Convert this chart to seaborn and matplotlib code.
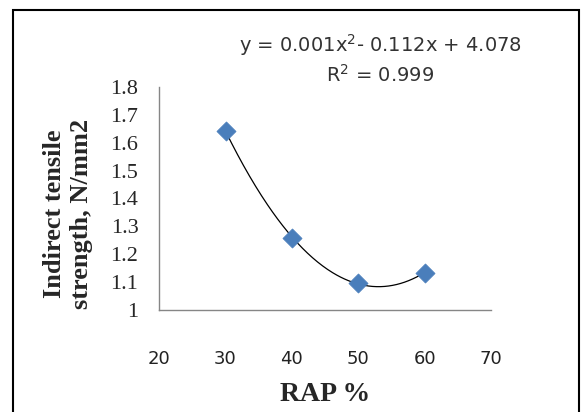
import matplotlib
matplotlib.use('Agg')
import matplotlib.pyplot as plt
import numpy as np
import seaborn as sns
from matplotlib.patches import Rectangle

# data
rap_pct = [30, 40, 50, 60]
its_values = [1.643, 1.257, 1.098, 1.132]
x_ticks = [20, 30, 40, 50, 60, 70]
y_ticks = [1.0, 1.1, 1.2, 1.3, 1.4, 1.5, 1.6, 1.7, 1.8]
y_tick_labels = ['1', '1.1', '1.2', '1.3', '1.4', '1.5', '1.6', '1.7', '1.8']
equation = 'y = 0.001x$^{2}$- 0.112x + 4.078'
r_squared = 'R$^{2}$ = 0.999'

sns.set_style('white')
plt.rcParams['font.family'] = ['DejaVu Sans']

fig = plt.figure(figsize=(5.81, 4.12), dpi=100)
ax = fig.add_axes([0.274, 0.248, 0.571, 0.541])

# quadratic trendline as in the spreadsheet
coef = np.polyfit(rap_pct, its_values, 2)
xs = np.linspace(min(rap_pct), max(rap_pct), 200)
sns.lineplot(x=xs, y=np.polyval(coef, xs), color='black', linewidth=0.9, ax=ax)
sns.scatterplot(x=rap_pct, y=its_values, marker='D', s=95, color='#4a7ebb',
                edgecolor='#4a7ebb', linewidth=0.5, zorder=3, ax=ax)

grey = '#868686'
ax.set_xlim(20, 70)
ax.set_ylim(1.0, 1.8)
ax.set_xticks(x_ticks)
ax.set_yticks(y_ticks)
ax.set_yticklabels(y_tick_labels, family='Liberation Serif', fontsize=16)
ax.set_xticklabels([str(t) for t in x_ticks], fontsize=13, color='#222222')
ax.tick_params(axis='x', direction='out', length=5, color=grey, pad=24)
ax.tick_params(axis='y', direction='out', length=6, color=grey, pad=9)
for s in ('top', 'right'):
    ax.spines[s].set_visible(False)
for s in ('left', 'bottom'):
    ax.spines[s].set_color(grey)
    ax.spines[s].set_linewidth(1.0)

ax.set_xlabel('RAP %', family='Liberation Serif', fontweight='bold', fontsize=20, labelpad=10)
ax.set_ylabel('Indirect tensile\nstrength, N/mm2', family='Liberation Serif',
              fontweight='bold', fontsize=19, linespacing=1.2)
ax.yaxis.set_label_coords(-0.20, 0.43)

fig.text(380 / 581, 1 - 45 / 412, equation, ha='center', va='center', fontsize=14, color='#333333')
fig.text(380 / 581, 1 - 75 / 412, r_squared, ha='center', va='center', fontsize=14, color='#333333')

# outer frame of the chart area
fig.patches.append(Rectangle((13 / 581, -0.05), (579 - 13) / 581, 1 - 10 / 412 + 0.05,
                             transform=fig.transFigure, fill=False, edgecolor='black',
                             linewidth=1.5))

fig.savefig('out.png', dpi=100)
